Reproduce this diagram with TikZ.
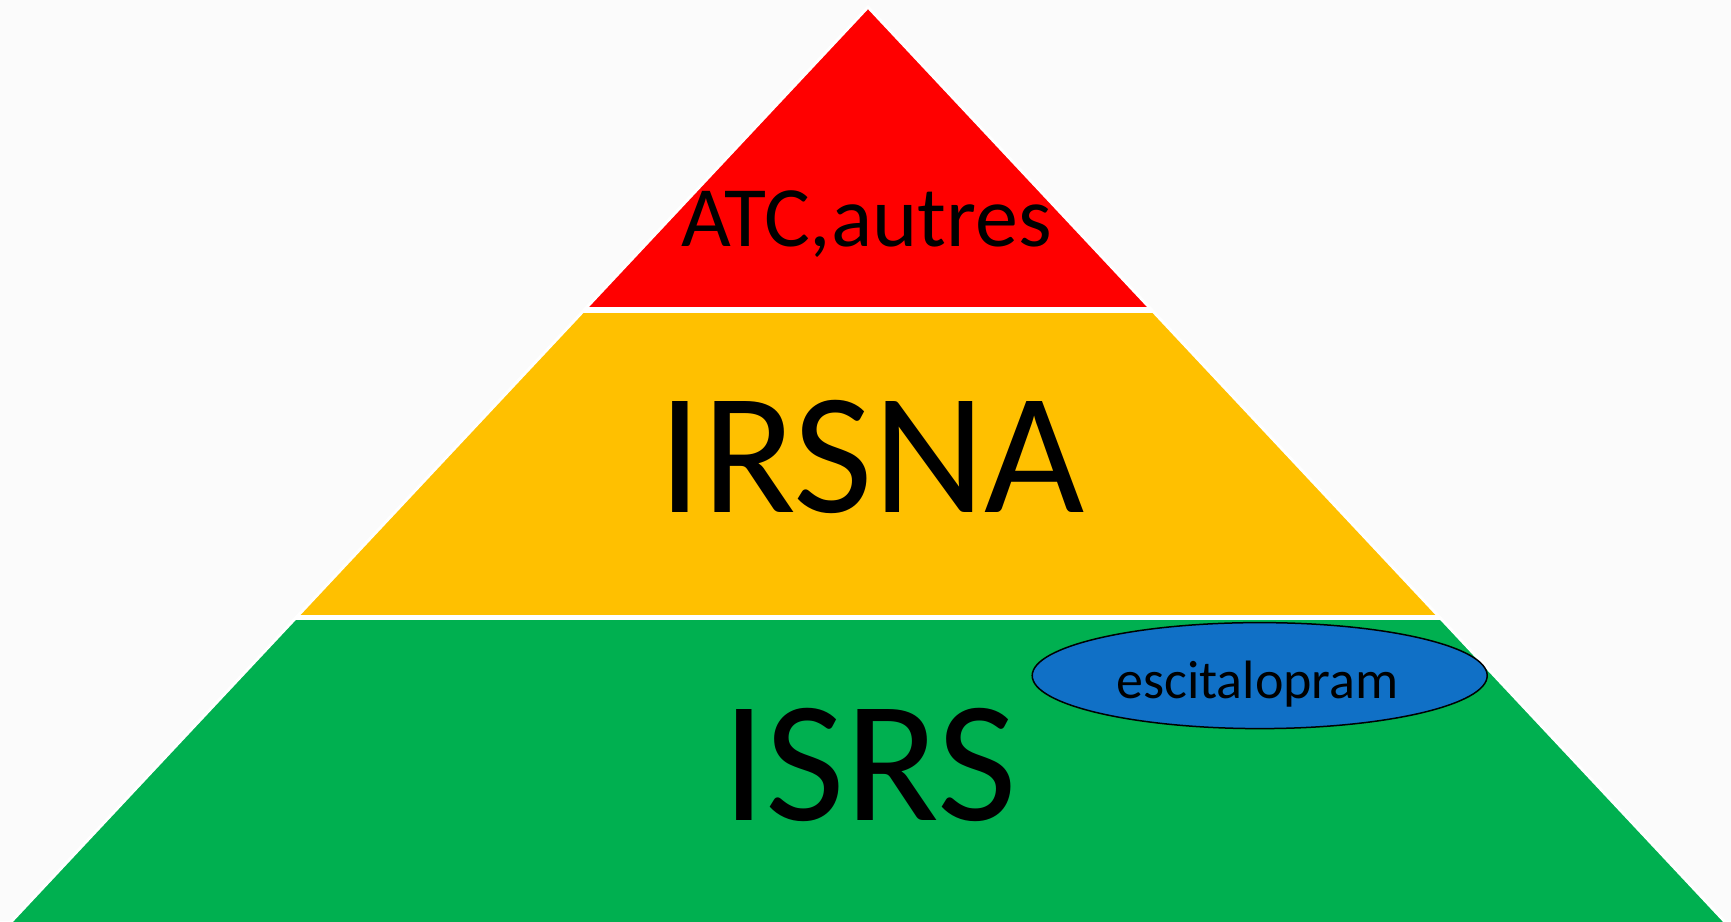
\documentclass[tikz,border=0pt]{standalone}
\usepackage{fontspec}
\setmainfont{Carlito}
\usetikzlibrary{shapes.geometric}
\definecolor{atcred}{RGB}{255,0,0}
\definecolor{irsnayellow}{RGB}{255,192,0}
\definecolor{isrsgreen}{RGB}{0,176,80}
\definecolor{escblue}{RGB}{16,112,198}
\definecolor{paper}{RGB}{251,251,251}
\tikzset{
  level/.style={anchor=base, inner sep=0pt, text=black},
  gap/.style={white, line width=5.5pt},
}
\begin{document}
\begin{tikzpicture}[x=1pt,y=-1pt]
    \fill[paper] (0,0) rectangle (1731,921);
    \useasboundingbox (0,0) rectangle (1731,921);
    \coordinate (apex) at (868,7);
    \coordinate (bl) at (8,925);
    \coordinate (br) at (1728,925);
    % the three bands
    \begin{scope}
        \clip (apex) -- (bl) -- (br) -- cycle;
        \fill[isrsgreen] (0,617.5) rectangle (1731,930);
        \fill[irsnayellow] (0,310) rectangle (1731,617.5);
        \fill[atcred] (0,0) rectangle (1731,310);
        \draw[gap] (0,310) -- (1731,310);
        \draw[gap] (0,617.5) -- (1731,617.5);
    \end{scope}
    \draw[white, line width=3pt] (bl) -- (apex) -- (br);
    \node[level, font=\fontsize{86}{86}\selectfont] (atc) at (866.5,246) {ATC,autres};
    \node[level, font=\fontsize{173}{173}\selectfont] (irsna) at (871.7,512.7) {IRSNA};
    \node[level, font=\fontsize{173}{173}\selectfont] (isrs) at (869.5,820) {ISRS};
    \node[ellipse, draw=black, line width=1.5pt, fill=escblue, minimum width=455pt, minimum height=106pt, inner sep=0pt] (esc) at (1259.7,675.6) {};
    \node[level, font=\fontsize{54}{54}\selectfont] (escname) at (1257.5,698.3) {escitalopram};
\end{tikzpicture}
\end{document}
